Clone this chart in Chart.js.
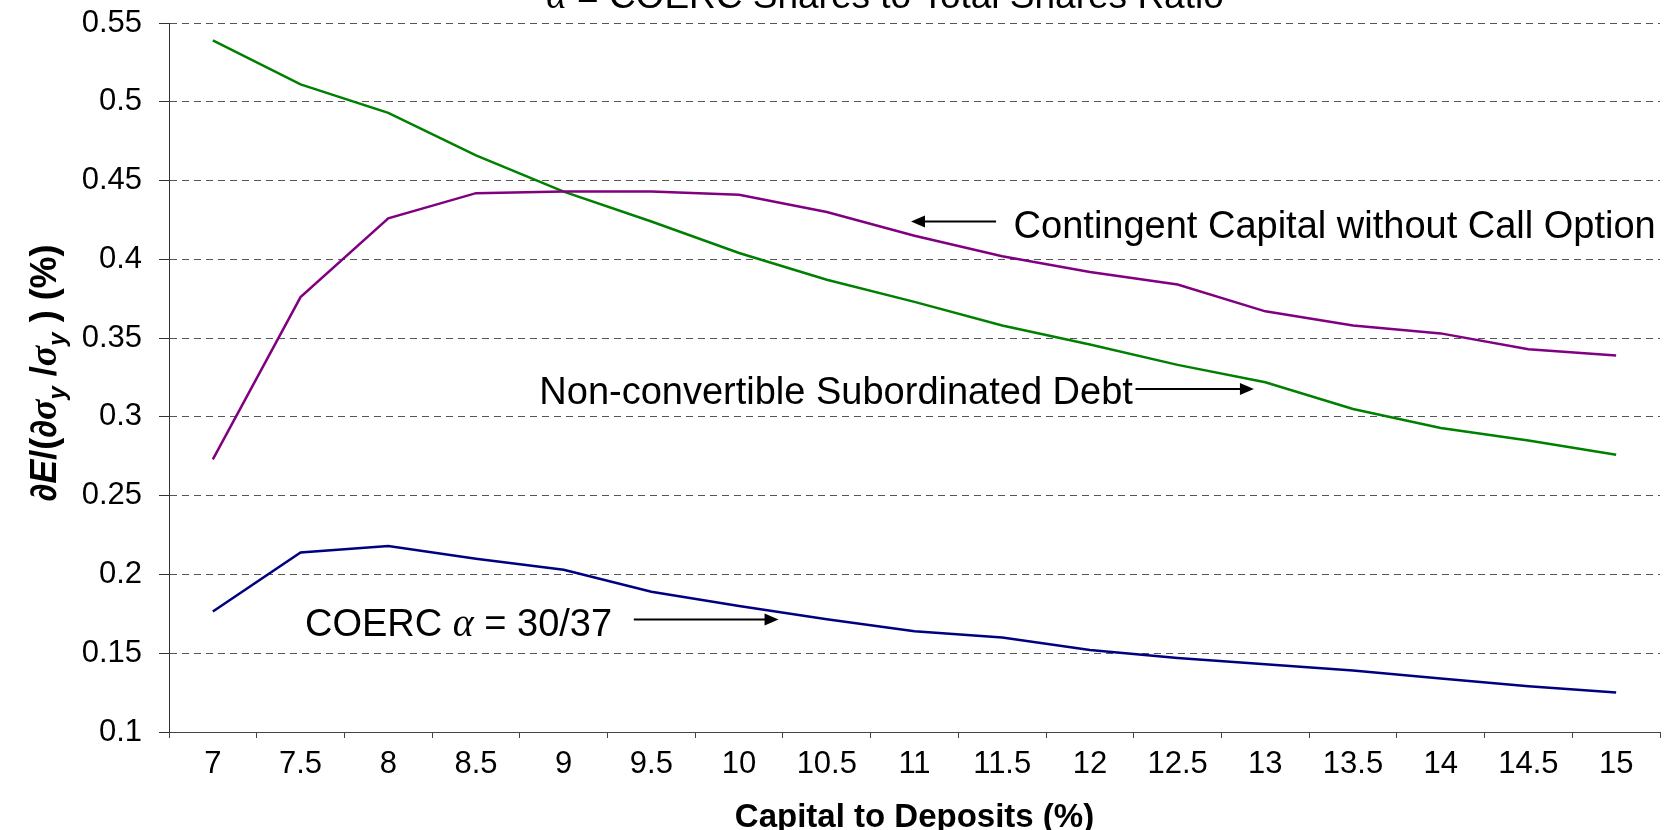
<!DOCTYPE html>
<html>
<head>
<meta charset="utf-8">
<script src="https://cdn.jsdelivr.net/npm/chart.js@4.4.1/dist/chart.umd.min.js"></script>
<style>
  html, body { margin: 0; padding: 0; background: #fff; }
</style>
</head>
<body>
<canvas id="chart" width="1673" height="830"></canvas>
<script>
const capitalToDeposits = ["7", "7.5", "8", "8.5", "9", "9.5", "10", "10.5", "11", "11.5", "12", "12.5", "13", "13.5", "14", "14.5", "15"];
const contingentNoCall = [0.273, 0.376, 0.426, 0.442, 0.443, 0.443, 0.441, 0.430, 0.415, 0.402, 0.392, 0.384, 0.367, 0.358, 0.353, 0.343, 0.339];
const subordinatedDebt = [0.539, 0.511, 0.493, 0.466, 0.443, 0.424, 0.404, 0.387, 0.373, 0.358, 0.346, 0.333, 0.322, 0.305, 0.293, 0.285, 0.276];
const coerc = [0.1765, 0.214, 0.218, 0.210, 0.203, 0.189, 0.180, 0.1715, 0.164, 0.160, 0.152, 0.147, 0.143, 0.139, 0.134, 0.129, 0.125];
const yTickValues = [0.1, 0.15, 0.2, 0.25, 0.3, 0.35, 0.4, 0.45, 0.5, 0.55];

const SANS = '"Liberation Sans", Arial, sans-serif';
const SERIF = '"Liberation Serif", "Times New Roman", serif';

// callouts, anchored in data units (x = category index, y = value)
const callouts = [
  { x: 9.13, y: 0.4134, align: "left", parts: [{ t: "Contingent Capital without Call Option" }] },
  { x: 10.49, y: 0.3081, align: "right", parts: [{ t: "Non-convertible Subordinated Debt" }] },
  { x: 1.05, y: 0.1609, align: "left", parts: [{ t: "COERC " }, { t: "\u03B1", greek: true }, { t: " = 30/37" }] },
];
const arrows = [
  { x1: 8.93, x2: 7.96, y: 0.424 },
  { x1: 10.52, x2: 11.87, y: 0.3177 },
  { x1: 4.8, x2: 6.45, y: 0.1714 },
];

function drawRich(ctx, parts, x, y, align) {
  let w = 0;
  parts.forEach((p) => {
    ctx.font = p.font;
    p.w = ctx.measureText(p.t).width;
    w += p.w;
  });
  let cx = align === "center" ? x - w / 2 : align === "right" ? x - w : x;
  parts.forEach((p) => {
    ctx.font = p.font;
    ctx.fillText(p.t, cx, y + (p.dy || 0));
    cx += p.w;
  });
}

const notesPlugin = {
  id: "notes",
  afterDraw(chart) {
    const { ctx, scales } = chart;
    const xs = scales.x, ys = scales.y;
    ctx.save();
    ctx.fillStyle = "#000";
    ctx.strokeStyle = "#000";
    ctx.textBaseline = "alphabetic";
    ctx.textAlign = "left";

    callouts.forEach((c) => {
      const parts = c.parts.map((p) => ({
        t: p.t,
        font: p.greek ? "italic 40px " + SERIF : "38px " + SANS,
      }));
      drawRich(ctx, parts, xs.getPixelForValue(c.x), ys.getPixelForValue(c.y), c.align);
    });

    ctx.lineWidth = 2;
    arrows.forEach((a) => {
      const x1 = xs.getPixelForValue(a.x1);
      const x2 = xs.getPixelForValue(a.x2);
      const y = ys.getPixelForValue(a.y);
      const dir = Math.sign(x2 - x1);
      ctx.beginPath();
      ctx.moveTo(x1, y);
      ctx.lineTo(x2 - dir * 10, y);
      ctx.stroke();
      ctx.beginPath();
      ctx.moveTo(x2, y);
      ctx.lineTo(x2 - dir * 14, y - 6);
      ctx.lineTo(x2 - dir * 14, y + 6);
      ctx.closePath();
      ctx.fill();
    });

    // title, partly cut off at the top like the source
    drawRich(ctx, [
      { t: "\u03B1", font: "italic 39px " + SERIF },
      { t: " = COERC Shares to Total Shares Ratio", font: "37px " + SANS },
    ], 885, 8, "center");

    // y axis title with subscripts
    const b = "bold 36px " + SANS, bi = "italic bold 36px " + SANS, gi = "italic bold 38px " + SERIF, sub = "italic bold 24px " + SANS;
    const yParts = [
      { t: "\u2202", font: b },
      { t: "E", font: bi },
      { t: "/(\u2202", font: b },
      { t: "\u03C3", font: gi },
      { t: "y", font: sub, dy: 9 },
      { t: " /", font: b },
      { t: "\u03C3", font: gi },
      { t: "y", font: sub, dy: 9 },
      { t: " ) (%)", font: b },
    ];
    ctx.translate(56, 373);
    ctx.rotate(-Math.PI / 2);
    drawRich(ctx, yParts, 0, 0, "center");
    ctx.restore();
  },
};

const ctx = document.getElementById("chart").getContext("2d");
new Chart(ctx, {
  type: "line",
  data: {
    labels: capitalToDeposits,
    datasets: [
      { label: "Contingent Capital without Call Option", data: contingentNoCall, borderColor: "#800080" },
      { label: "Non-convertible Subordinated Debt", data: subordinatedDebt, borderColor: "#008000" },
      { label: "COERC", data: coerc, borderColor: "#000080" },
    ],
  },
  options: {
    responsive: false,
    animation: false,
    layout: { padding: { top: 23, right: 13, left: 0, bottom: 0 } },
    elements: {
      line: { borderWidth: 2.5, tension: 0, fill: false },
      point: { radius: 0, hoverRadius: 0 },
    },
    plugins: {
      legend: { display: false },
      tooltip: { enabled: false },
    },
    scales: {
      x: {
        type: "category",
        offset: true,
        grid: { display: true, drawOnChartArea: false, drawTicks: true, tickLength: 6, tickColor: "#444", offset: true },
        border: { color: "#444", width: 1 },
        ticks: { color: "#000", padding: 8, maxRotation: 0, autoSkip: false, font: { family: SANS, size: 31 } },
        title: {
          display: true,
          text: "Capital to Deposits (%)",
          color: "#000",
          font: { family: SANS, size: 33, weight: "bold" },
          padding: { top: 0, bottom: -8 },
        },
        afterFit: (axis) => {
          axis.height = 98;
          axis.paddingLeft = 0;
          axis.paddingRight = 0;
        },
      },
      y: {
        min: 0.1,
        max: 0.55,
        afterBuildTicks: (axis) => { axis.ticks = yTickValues.map((v) => ({ value: v })); },
        ticks: { color: "#000", padding: 17, font: { family: SANS, size: 31 }, callback: (v) => String(v) },
        grid: { color: "#555", tickColor: "#333", tickLength: 10, tickBorderDash: [] },
        border: { color: "#333", width: 1, dash: [7, 5] },
        afterFit: (axis) => {
          axis.width = 169;
          axis.paddingTop = 0;
          axis.paddingBottom = 0;
        },
      },
    },
  },
  plugins: [notesPlugin],
});
</script>
</body>
</html>
